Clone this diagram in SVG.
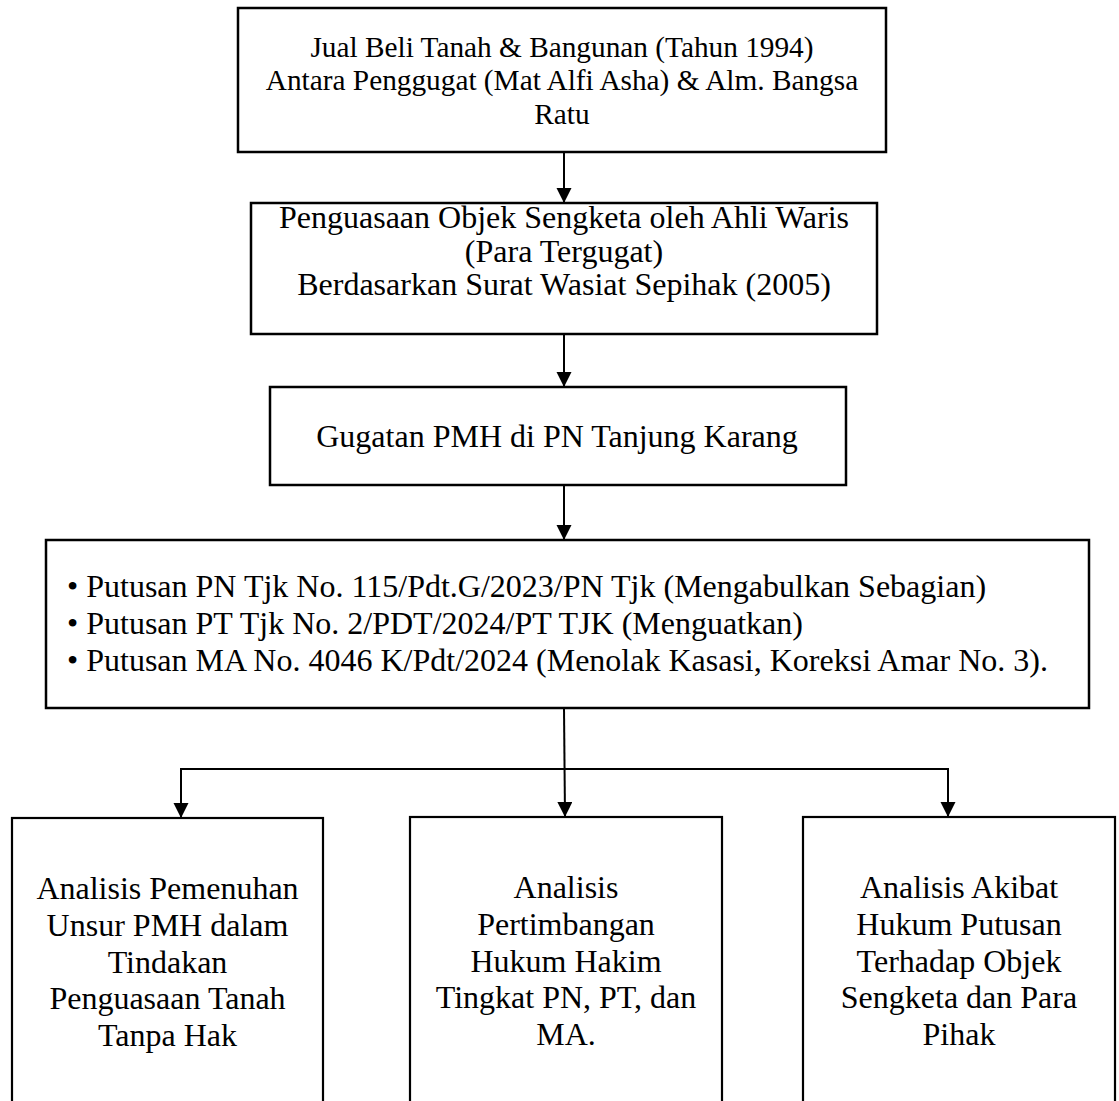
<svg xmlns="http://www.w3.org/2000/svg" width="1119" height="1101" viewBox="0 0 1119 1101">
<defs>
<style>
.box{fill:#fff;stroke:#000;stroke-width:2.5}
.boxb{fill:#fff;stroke:#000;stroke-width:2.2}
.t{font-family:"Liberation Serif","Times New Roman",serif;fill:#000;text-anchor:middle}
.s29{font-size:29.3px}
.s32{font-size:32px}
.l{font-family:"Liberation Serif","Times New Roman",serif;fill:#000;font-size:32px}
.c{fill:none;stroke:#000;stroke-width:2}
</style>
<marker id="ah" markerUnits="userSpaceOnUse" markerWidth="16" markerHeight="16" refX="15" refY="7.5" orient="auto">
<path d="M0,0 L15,7.5 L0,15 z" fill="#000"/>
</marker>
</defs>
<rect width="1119" height="1101" fill="#fff"/>
<g id="connectors">
<path class="c" d="M564,152 L564,203" marker-end="url(#ah)"/>
<path class="c" d="M564,334 L564,387" marker-end="url(#ah)"/>
<path class="c" d="M564,485 L564,540" marker-end="url(#ah)"/>
<path class="c" d="M564,708 L565,817" marker-end="url(#ah)"/>
<path class="c" d="M181,769 L948,769"/>
<path class="c" d="M181,768 L181,818" marker-end="url(#ah)"/>
<path class="c" d="M948,768 L948,817" marker-end="url(#ah)"/>
</g>
<g id="node1">
<rect class="box" x="238" y="8" width="648" height="144"/>
<text class="t s29" x="562" y="57">Jual Beli Tanah &amp; Bangunan (Tahun 1994)</text>
<text class="t s29" x="562" y="90">Antara Penggugat (Mat Alfi Asha) &amp; Alm. Bangsa</text>
<text class="t s29" x="562" y="124">Ratu</text>
</g>
<g id="node2">
<rect class="box" x="251" y="203" width="626" height="131"/>
<text class="t s32" x="564" y="228">Penguasaan Objek Sengketa oleh Ahli Waris</text>
<text class="t s32" x="564" y="261.5">(Para Tergugat)</text>
<text class="t s32" x="564" y="295">Berdasarkan Surat Wasiat Sepihak (2005)</text>
</g>
<g id="node3">
<rect class="box" x="270" y="387" width="576" height="98"/>
<text class="t s32" x="557" y="447">Gugatan PMH di PN Tanjung Karang</text>
</g>
<g id="node4">
<rect class="box" x="46" y="540" width="1043" height="168"/>
<text class="l" x="67" y="597">• Putusan PN Tjk No. 115/Pdt.G/2023/PN Tjk (Mengabulkan Sebagian)</text>
<text class="l" x="67" y="634">• Putusan PT Tjk No. 2/PDT/2024/PT TJK (Menguatkan)</text>
<text class="l" x="67" y="671">• Putusan MA No. 4046 K/Pdt/2024 (Menolak Kasasi, Koreksi Amar No. 3).</text>
</g>
<g id="node5">
<rect class="boxb" x="12" y="818" width="311" height="300"/>
<text class="t s32" x="167.5" y="899">Analisis Pemenuhan</text>
<text class="t s32" x="167.5" y="936">Unsur PMH dalam</text>
<text class="t s32" x="167.5" y="972.5">Tindakan</text>
<text class="t s32" x="167.5" y="1009">Penguasaan Tanah</text>
<text class="t s32" x="167.5" y="1045.5">Tanpa Hak</text>
</g>
<g id="node6">
<rect class="boxb" x="410" y="817" width="312" height="300"/>
<text class="t s32" x="566" y="898">Analisis</text>
<text class="t s32" x="566" y="935">Pertimbangan</text>
<text class="t s32" x="566" y="971.5">Hukum Hakim</text>
<text class="t s32" x="566" y="1008">Tingkat PN, PT, dan</text>
<text class="t s32" x="566" y="1044.5">MA.</text>
</g>
<g id="node7">
<rect class="boxb" x="803" y="817" width="312" height="300"/>
<text class="t s32" x="959" y="898">Analisis Akibat</text>
<text class="t s32" x="959" y="935">Hukum Putusan</text>
<text class="t s32" x="959" y="971.5">Terhadap Objek</text>
<text class="t s32" x="959" y="1008">Sengketa dan Para</text>
<text class="t s32" x="959" y="1044.5">Pihak</text>
</g>
</svg>
